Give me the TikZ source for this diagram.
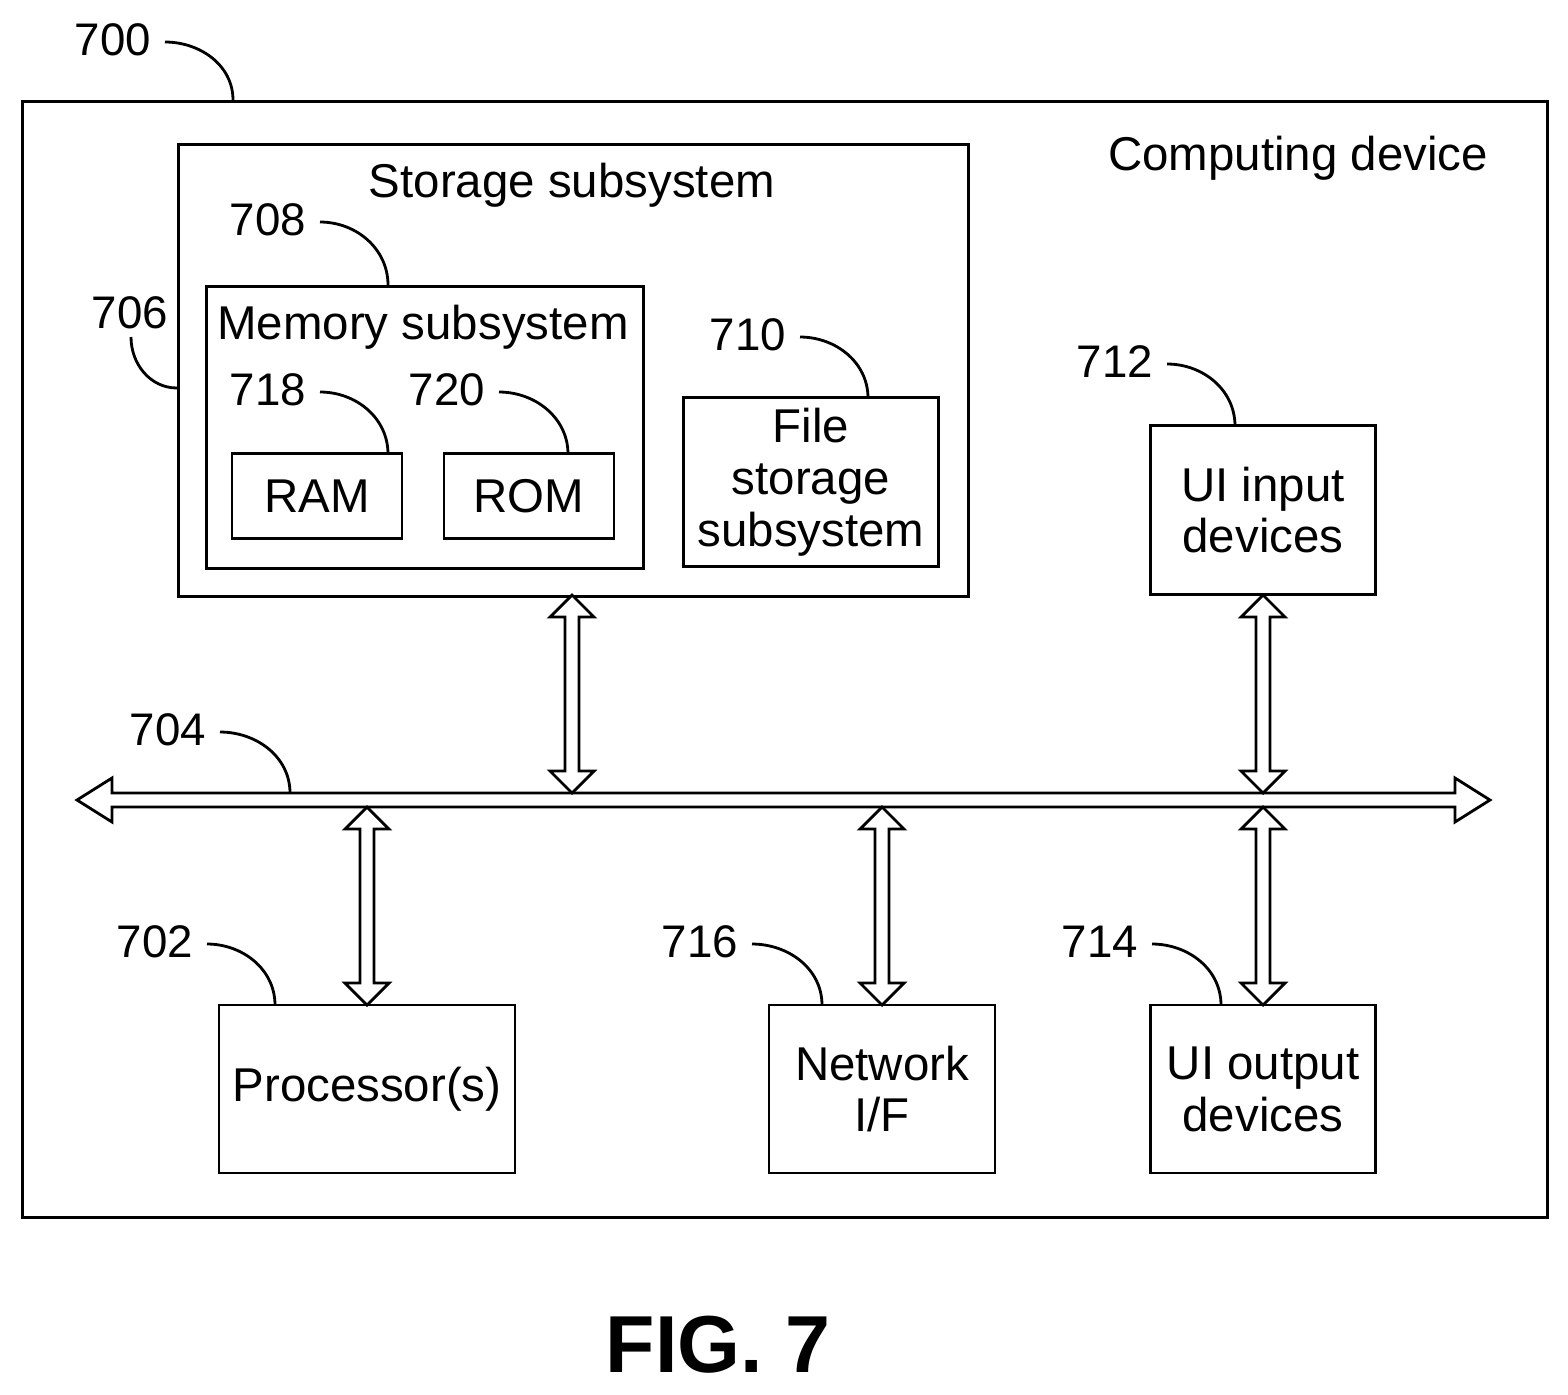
\documentclass[tikz,border=0pt]{standalone}
\usepackage{fontspec}
\setmainfont{Liberation Sans}
\begin{document}
\begin{tikzpicture}[x=0.02cm,y=-0.02cm,line width=1.6pt,
  box/.style={draw,align=center,inner sep=0pt,font=\fontsize{27}{29.5}\selectfont},
  lbl/.style={font=\fontsize{26}{26}\selectfont,inner sep=0pt},
  lead/.style={line width=1.6pt}]
\useasboundingbox (0,0) rectangle (1568,1394);
\node[draw,minimum width=1525*0.02cm,minimum height=1116*0.02cm,anchor=north west,inner sep=0pt] (dev) at (21,100) {};
\node[lbl,font=\fontsize{27}{27}\selectfont] (devt) at (1298,158) {Computing device};
\node[draw,minimum width=790*0.02cm,minimum height=452*0.02cm,anchor=north west,inner sep=0pt] (sto) at (177,143) {};
\node[lbl,font=\fontsize{27}{27}\selectfont] (stot) at (572,185) {Storage subsystem};
\node[draw,minimum width=437*0.02cm,minimum height=282*0.02cm,anchor=north west,inner sep=0pt] (mem) at (205,285) {};
\node[lbl,font=\fontsize{27}{27}\selectfont] (memt) at (423,327) {Memory subsystem};
\node[box,minimum width=170*0.02cm,minimum height=85*0.02cm] (ram) at (317,496) {RAM};
\node[box,minimum width=170*0.02cm,minimum height=85*0.02cm] (rom) at (529,496) {ROM};
\node[box,minimum width=255*0.02cm,minimum height=169*0.02cm] (fss) at (811,482) {File\\storage\\subsystem};
\node[box,minimum width=225*0.02cm,minimum height=169*0.02cm] (uii) at (1263,510) {UI input\\devices};
\node[box,minimum width=296*0.02cm,minimum height=168*0.02cm] (proc) at (367,1089) {Processor(s)};
\node[box,minimum width=226*0.02cm,minimum height=168*0.02cm] (net) at (882,1089) {Network\\I/F};
\node[box,minimum width=225*0.02cm,minimum height=168*0.02cm] (uio) at (1263,1089) {UI output\\devices};
\node[font=\bfseries\fontsize{46}{46}\selectfont] (fig) at (718,1345) {FIG. 7};
% bus
\draw[fill=white] (77,800)--(112,778)--(112,793)--(1455,793)--(1455,778)--(1490,800)--(1455,822)--(1455,807)--(112,807)--(112,822)--cycle;
\newcommand{\varrow}[3]{\draw[fill=white] (#1,#2)--(#1+22,#2+22)--(#1+7,#2+22)--(#1+7,#3-22)--(#1+22,#3-22)--(#1,#3)--(#1-22,#3-22)--(#1-7,#3-22)--(#1-7,#2+22)--(#1-22,#2+22)--cycle;}
\varrow{572}{595}{793}
\varrow{1263}{595}{793}
\varrow{367}{807}{1005}
\varrow{882}{807}{1005}
\varrow{1263}{807}{1005}
% labels with leaders
\newcommand{\reflbl}[5]{\node[lbl] at (#1,#2) {#3}; \draw[lead] (#1+52,#2+2) to[out=0,in=90] (#4,#5);}
\reflbl{113}{40}{700}{233}{100}
\reflbl{268}{220}{708}{388}{285}
\reflbl{268}{390}{718}{388}{454}
\reflbl{447}{390}{720}{568}{454}
\reflbl{748}{335}{710}{868}{398}
\reflbl{1115}{362}{712}{1235}{426}
\reflbl{168}{730}{704}{290}{793}
\reflbl{155}{942}{702}{275}{1005}
\reflbl{700}{942}{716}{822}{1005}
\reflbl{1100}{942}{714}{1221}{1005}
\node[lbl] at (130,313) {706};
\draw[lead] (131,337) to[out=-90,in=180] (177,388);
\end{tikzpicture}
\end{document}
